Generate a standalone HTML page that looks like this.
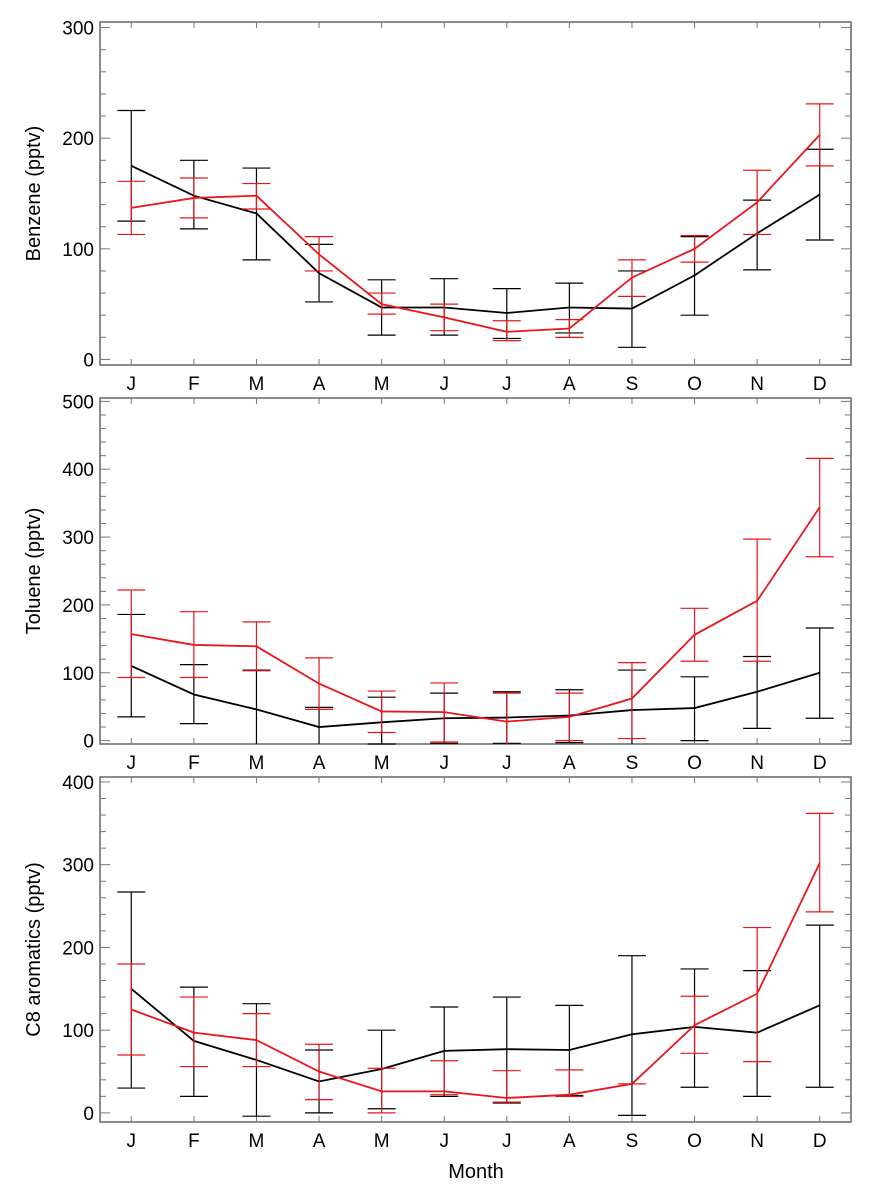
<!DOCTYPE html>
<html><head><meta charset="utf-8"><style>
body{margin:0;background:#fff}
svg{display:block;font-family:"Liberation Sans",Arial,sans-serif}
</style></head><body>
<svg id="chart" width="870" height="1199"></svg>
<script>
const months=["J","F","M","A","M","J","J","A","S","O","N","D"];
const benzeneBlack=[175,148,132,78,47,47,42,47,46,76,114,149];
const benzeneBlackLo=[125,118,90,52,22,22,19,24,11,40,81,108];
const benzeneBlackHi=[225,180,173,104,72,73,64,69,80,111,144,190];
const benzeneRed=[137,146,148,95,50,38,25,28,74,100,142,203];
const benzeneRedLo=[113,128,136,80,41,26,17,20,57,88,113,175];
const benzeneRedHi=[161,164,159,111,60,50,35,36,90,112,171,231];
const tolueneBlack=[110,68,46,20,27,33,34,37,45,48,72,100];
const tolueneBlackLo=[35,25,-10,-8,-5,-4,-4,-3,-8,0,18,33];
const tolueneBlackHi=[186,112,104,49,64,70,72,75,104,94,124,166];
const tolueneRed=[157,141,139,84,43,42,28,35,62,156,206,344];
const tolueneRedLo=[93,93,103,46,12,-2,-8,0,3,117,117,271];
const tolueneRedHi=[222,190,175,122,73,85,70,70,115,195,297,416];
const c8Black=[150,87,64,38,53,75,77,76,95,104,97,130];
const c8BlackLo=[30,20,-4,0,5,20,12,21,-3,31,20,31];
const c8BlackHi=[267,152,132,76,100,128,140,130,190,174,172,227];
const c8Red=[125,97,88,50,26,26,18,22,35,106,144,302];
const c8RedLo=[70,56,56,16,0,22,13,20,35,72,62,243];
const c8RedHi=[180,140,120,83,54,63,51,52,35,141,224,362];

const NS="http://www.w3.org/2000/svg";
const svg=document.getElementById('chart');
function mk(tag,attrs,parent){const e=document.createElementNS(NS,tag);for(const k in attrs)e.setAttribute(k,attrs[k]);(parent||svg).appendChild(e);return e;}
const X0=100,X1=851;
function xs(i){return X0+(i+0.5)*(X1-X0)/12;}
const panels=[
 {name:"benzene",title:"Benzene (pptv)",top:22,bot:365,vmin:-5,vmax:305,ticks:[0,100,200,300],minor:20,
  series:[[benzeneBlack,benzeneBlackLo,benzeneBlackHi,"#000"],[benzeneRed,benzeneRedLo,benzeneRedHi,"#e8161b"]]},
 {name:"toluene",title:"Toluene (pptv)",top:398,bot:744,vmin:-5,vmax:505,ticks:[0,100,200,300,400,500],minor:20,
  series:[[tolueneBlack,tolueneBlackLo,tolueneBlackHi,"#000"],[tolueneRed,tolueneRedLo,tolueneRedHi,"#e8161b"]]},
 {name:"c8-aromatics",title:"C8 aromatics (pptv)",top:777,bot:1122,vmin:-11,vmax:406,ticks:[0,100,200,300,400],minor:20,
  series:[[c8Black,c8BlackLo,c8BlackHi,"#000"],[c8Red,c8RedLo,c8RedHi,"#e8161b"]]}
];
panels.forEach(p=>{
  const g=mk('g',{});
  
  
  const ys=v=>p.bot-(v-p.vmin)*(p.bot-p.top)/(p.vmax-p.vmin);
  const clamp=y=>Math.max(p.top,Math.min(p.bot,y));
  const fr=mk('rect',{x:X0,y:p.top,width:X1-X0,height:p.bot-p.top,fill:"none",stroke:"#666","stroke-width":1.5},g);
  
  
  for(let v=0;v<=p.vmax;v+=p.minor){
    const y=ys(v),len=(v%100===0)?10:6;
    mk('line',{x1:X0,x2:X0+len,y1:y,y2:y,stroke:"#777","stroke-width":1},g);
    mk('line',{x1:X1,x2:X1-len,y1:y,y2:y,stroke:"#777","stroke-width":1},g);
  }
  p.ticks.forEach(v=>{
    const t=mk('text',{x:X0-6,y:ys(v)+7,"text-anchor":"end","font-size":19},g);
    t.textContent=v;
    
    
  });
  months.forEach((m,i)=>{
    const x=xs(i);
    mk('line',{x1:x,x2:x,y1:p.bot,y2:p.bot-6,stroke:"#777"},g);
    mk('line',{x1:x,x2:x,y1:p.top,y2:p.top+6,stroke:"#777"},g);
    const t=mk('text',{x:x,y:p.bot+25,"text-anchor":"middle","font-size":19},g);
    t.textContent=m;
    
    
  });
  const yt=mk('text',{x:0,y:0,"text-anchor":"middle","font-size":20,transform:`translate(40,${(p.top+p.bot)/2}) rotate(-90)`},g);
  yt.textContent=p.title;
  
  
  p.series.forEach(([vals,lo,hi,col],si)=>{
    vals.forEach((v,i)=>{
      const x=xs(i),y1=clamp(ys(lo[i])),y2=clamp(ys(hi[i]));
      const eb=mk('g',{stroke:col,"stroke-width":1.2},g);
      
      
      mk('line',{x1:x,x2:x,y1:y1,y2:y2},eb);
      if(ys(lo[i])<=p.bot)mk('line',{x1:x-14,x2:x+14,y1:y1,y2:y1},eb);
      if(ys(hi[i])>=p.top)mk('line',{x1:x-14,x2:x+14,y1:y2,y2:y2},eb);
    });
    const pl=mk('polyline',{points:vals.map((v,i)=>xs(i)+","+ys(v)).join(" "),fill:"none",stroke:col,"stroke-width":1.8},g);
    
    
  });
});
const xt=mk('text',{x:476,y:1178,"text-anchor":"middle","font-size":20});
xt.textContent="Month";


</script>
</body></html>
